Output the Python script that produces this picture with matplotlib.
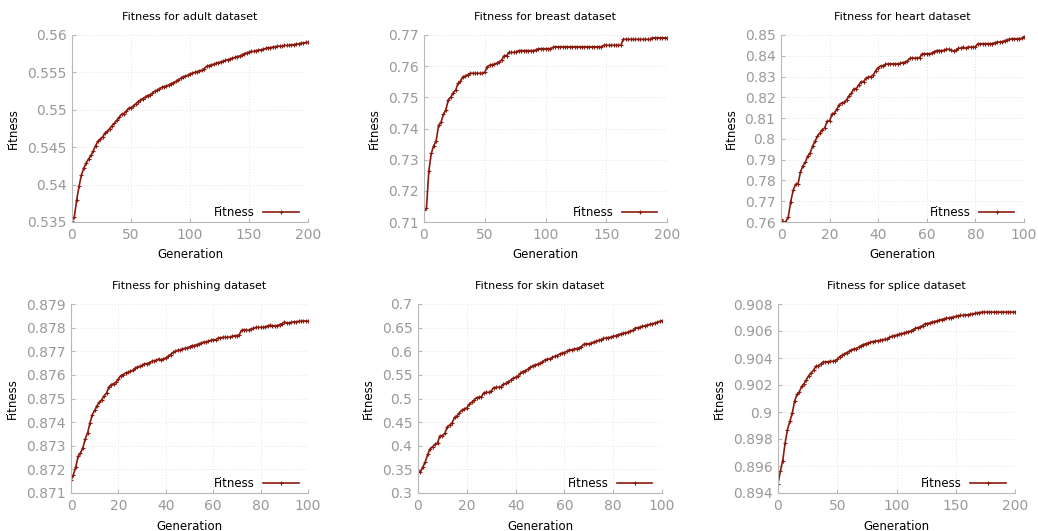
import numpy as np
import matplotlib
matplotlib.use('Agg')
import matplotlib.pyplot as plt
from matplotlib.ticker import FormatStrFormatter, MultipleLocator

# generation axes
gen200 = np.arange(0, 201, 2)
gen100 = np.arange(0, 101)

adult = [0.5352, 0.5357, 0.5380, 0.5398, 0.5413, 0.5422, 0.5429, 0.5434, 0.5439, 0.5445,
         0.5452, 0.5458, 0.5461, 0.5464, 0.5469, 0.5471, 0.5475, 0.5479, 0.5482, 0.5486,
         0.5490, 0.5494, 0.5495, 0.5498, 0.5502, 0.5503, 0.5505, 0.5508, 0.5511, 0.5513,
         0.5515, 0.5517, 0.5519, 0.5520, 0.5522, 0.5525, 0.5526, 0.5528, 0.5530, 0.5531,
         0.5532, 0.5533, 0.5535, 0.5536, 0.5538, 0.5540, 0.5542, 0.5544, 0.5545, 0.5546,
         0.5548, 0.5549, 0.5550, 0.5551, 0.5552, 0.5553, 0.5555, 0.5558, 0.5559, 0.5560,
         0.5561, 0.5562, 0.5563, 0.5564, 0.5565, 0.5566, 0.5567, 0.5568, 0.5569, 0.5570,
         0.5571, 0.5572, 0.5573, 0.5575, 0.5576, 0.5577, 0.5578, 0.5578, 0.5579, 0.5580,
         0.5580, 0.5581, 0.5582, 0.5583, 0.5583, 0.5584, 0.5584, 0.5585, 0.5585, 0.5585,
         0.5586, 0.5586, 0.5586, 0.5587, 0.5587, 0.5588, 0.5588, 0.5589, 0.5589, 0.5590,
         0.5590]

breast = [0.7138, 0.7144, 0.7265, 0.7320, 0.7345, 0.7360, 0.7410, 0.7420, 0.7445, 0.7460,
          0.7492, 0.7500, 0.7515, 0.7522, 0.7545, 0.7552, 0.7566, 0.7568, 0.7573, 0.7577,
          0.7577, 0.7577, 0.7577, 0.7577, 0.7577, 0.7580, 0.7598, 0.7603, 0.7605, 0.7606,
          0.7610, 0.7614, 0.7620, 0.7634, 0.7634, 0.7644, 0.7644, 0.7644, 0.7646, 0.7650,
          0.7650, 0.7650, 0.7650, 0.7650, 0.7650, 0.7650, 0.7652, 0.7656, 0.7656, 0.7656,
          0.7656, 0.7656, 0.7656, 0.7660, 0.7662, 0.7662, 0.7662, 0.7662, 0.7662, 0.7662,
          0.7662, 0.7662, 0.7662, 0.7662, 0.7662, 0.7662, 0.7662, 0.7662, 0.7662, 0.7662,
          0.7662, 0.7662, 0.7662, 0.7662, 0.7667, 0.7667, 0.7667, 0.7667, 0.7667, 0.7667,
          0.7667, 0.7667, 0.7686, 0.7686, 0.7686, 0.7686, 0.7686, 0.7686, 0.7686, 0.7686,
          0.7686, 0.7686, 0.7686, 0.7686, 0.7691, 0.7691, 0.7691, 0.7691, 0.7691, 0.7691,
          0.7691]

heart = [0.7613, 0.7600, 0.7602, 0.7625, 0.7698, 0.7752, 0.7782, 0.7783, 0.7840, 0.7870,
         0.7888, 0.7917, 0.7933, 0.7965, 0.7989, 0.8013, 0.8029, 0.8045, 0.8053, 0.8085,
         0.8086, 0.8120, 0.8124, 0.8144, 0.8165, 0.8173, 0.8176, 0.8188, 0.8208, 0.8220,
         0.8241, 0.8242, 0.8260, 0.8275, 0.8276, 0.8292, 0.8297, 0.8300, 0.8308, 0.8329,
         0.8343, 0.8351, 0.8351, 0.8359, 0.8361, 0.8361, 0.8361, 0.8361, 0.8361, 0.8363,
         0.8367, 0.8369, 0.8375, 0.8388, 0.8389, 0.8389, 0.8389, 0.8390, 0.8409, 0.8410,
         0.8410, 0.8410, 0.8412, 0.8420, 0.8425, 0.8425, 0.8425, 0.8426, 0.8431, 0.8431,
         0.8428, 0.8423, 0.8427, 0.8436, 0.8437, 0.8441, 0.8436, 0.8442, 0.8442, 0.8442,
         0.8443, 0.8458, 0.8458, 0.8458, 0.8458, 0.8458, 0.8458, 0.8459, 0.8463, 0.8466,
         0.8466, 0.8467, 0.8473, 0.8476, 0.8479, 0.8482, 0.8482, 0.8482, 0.8482, 0.8484,
         0.8492]

phishing = [0.87154, 0.87178, 0.87210, 0.87255, 0.87270, 0.87291, 0.87329, 0.87354, 0.87396, 0.87432,
            0.87450, 0.87470, 0.87484, 0.87495, 0.87512, 0.87523, 0.87549, 0.87559, 0.87563, 0.87569,
            0.87583, 0.87597, 0.87601, 0.87608, 0.87611, 0.87615, 0.87619, 0.87628, 0.87633, 0.87636,
            0.87640, 0.87646, 0.87648, 0.87650, 0.87657, 0.87659, 0.87662, 0.87667, 0.87664, 0.87667,
            0.87672, 0.87679, 0.87686, 0.87695, 0.87700, 0.87704, 0.87704, 0.87710, 0.87712, 0.87714,
            0.87718, 0.87724, 0.87724, 0.87728, 0.87731, 0.87735, 0.87739, 0.87739, 0.87743, 0.87746,
            0.87749, 0.87748, 0.87756, 0.87756, 0.87759, 0.87759, 0.87759, 0.87760, 0.87763, 0.87766,
            0.87766, 0.87770, 0.87789, 0.87791, 0.87789, 0.87789, 0.87794, 0.87797, 0.87801, 0.87801,
            0.87801, 0.87801, 0.87803, 0.87808, 0.87810, 0.87808, 0.87808, 0.87808, 0.87813, 0.87817,
            0.87824, 0.87820, 0.87820, 0.87822, 0.87824, 0.87824, 0.87827, 0.87827, 0.87828, 0.87828,
            0.87827]

skin = [0.3473, 0.3446, 0.3550, 0.3660, 0.3820, 0.3940, 0.3980, 0.4030, 0.4060, 0.4210,
        0.4210, 0.4260, 0.4400, 0.4440, 0.4490, 0.4600, 0.4635, 0.4700, 0.4755, 0.4777,
        0.4805, 0.4880, 0.4920, 0.4970, 0.5020, 0.5025, 0.5040, 0.5124, 0.5130, 0.5130,
        0.5160, 0.5230, 0.5237, 0.5237, 0.5244, 0.5300, 0.5320, 0.5357, 0.5390, 0.5430,
        0.5450, 0.5480, 0.5534, 0.5570, 0.5590, 0.5620, 0.5660, 0.5690, 0.5710, 0.5726,
        0.5747, 0.5775, 0.5818, 0.5830, 0.5840, 0.5870, 0.5890, 0.5910, 0.5940, 0.5960,
        0.5973, 0.6000, 0.6030, 0.6030, 0.6044, 0.6058, 0.6072, 0.6100, 0.6150, 0.6157,
        0.6157, 0.6172, 0.6193, 0.6214, 0.6230, 0.6243, 0.6270, 0.6280, 0.6290, 0.6300,
        0.6313, 0.6327, 0.6350, 0.6363, 0.6380, 0.6390, 0.6405, 0.6427, 0.6440, 0.6490,
        0.6497, 0.6510, 0.6526, 0.6540, 0.6554, 0.6570, 0.6582, 0.6596, 0.6610, 0.6632,
        0.6646]

splice = [0.8947, 0.8956, 0.8964, 0.8977, 0.8987, 0.8993, 0.8999, 0.9008, 0.9013, 0.9015,
          0.9019, 0.9021, 0.9024, 0.9027, 0.9029, 0.9031, 0.9034, 0.9034, 0.90355, 0.9037,
          0.9037, 0.90372, 0.90375, 0.90375, 0.9038, 0.9039, 0.9041, 0.9042, 0.9043, 0.9044,
          0.9045, 0.9046, 0.90467, 0.9047, 0.9048, 0.9049, 0.9050, 0.90505, 0.9051, 0.90515,
          0.90522, 0.90525, 0.90527, 0.9053, 0.90535, 0.90538, 0.9054, 0.90552, 0.9056, 0.90565,
          0.9057, 0.90575, 0.9058, 0.90585, 0.9059, 0.90595, 0.9060, 0.9061, 0.9062, 0.90625,
          0.9063, 0.9064, 0.90654, 0.90655, 0.9066, 0.90665, 0.9067, 0.90675, 0.9068, 0.90685,
          0.9069, 0.90693, 0.90696, 0.9070, 0.90703, 0.90708, 0.90713, 0.90715, 0.90716, 0.90718,
          0.9072, 0.90723, 0.90726, 0.9073, 0.90733, 0.90737, 0.9074, 0.9074, 0.9074, 0.9074,
          0.9074, 0.9074, 0.9074, 0.9074, 0.9074, 0.9074, 0.9074, 0.9074, 0.9074, 0.9074,
          0.9074]

names = ['adult', 'breast', 'heart', 'phishing', 'skin', 'splice']
series = [adult, breast, heart, phishing, skin, splice]
gens = [gen200, gen200, gen100, gen100, gen100, gen200]
ylims = [(0.535, 0.56), (0.71, 0.77), (0.76, 0.85), (0.871, 0.879), (0.3, 0.7), (0.894, 0.908)]
ysteps = [0.005, 0.01, 0.01, 0.001, 0.05, 0.002]

# axes boxes in pixels: left, right, top, bottom
boxes = [(72, 308, 35, 222), (424, 667, 35, 222), (781, 1024, 35, 222),
         (71, 308, 304, 493), (418, 662, 304, 493), (778, 1015, 304, 493)]

W, H = 1038, 531
fig = plt.figure(figsize=(W / 100, H / 100), dpi=100)
line_color = '#8b1a0e'
grey = '#999999'

for i in range(6):
    l, r, t, b = boxes[i]
    ax = fig.add_axes([l / W, 1 - b / H, (r - l) / W, (b - t) / H])
    ax.plot(gens[i], series[i], color=line_color, lw=1.2, marker='+', ms=3,
            mew=0.8, label='Fitness')
    xmax = gens[i][-1]
    ax.set_xlim(0, xmax)
    ax.set_ylim(*ylims[i])
    ax.xaxis.set_major_locator(MultipleLocator(xmax / 4 if xmax == 200 else 20))
    ax.yaxis.set_major_locator(MultipleLocator(ysteps[i]))
    ax.yaxis.set_major_formatter(FormatStrFormatter('%g'))
    ax.grid(True, color='#e2e2e2', linestyle=(0, (1, 2)), linewidth=0.7)
    for s in ['top', 'right']:
        ax.spines[s].set_visible(False)
    for s in ['left', 'bottom']:
        ax.spines[s].set_color('#b8b8b8')
    ax.tick_params(colors='#b8b8b8', labelcolor=grey, labelsize=10, length=3,
                   width=0.8, pad=4, direction='in')
    ax.set_title('Fitness for %s dataset' % names[i], fontsize=8, pad=11)
    ax.set_xlabel('Generation', fontsize=8.5, labelpad=5)
    ax.set_ylabel('Fitness', fontsize=8.5, labelpad=5)
    ax.legend(loc='lower right', frameon=False, markerfirst=False, fontsize=8.5,
              handlelength=3.0, handletextpad=0.7, numpoints=1,
              borderaxespad=0.0, bbox_to_anchor=(0.98, -0.01))

fig.savefig('out.png', dpi=100)
